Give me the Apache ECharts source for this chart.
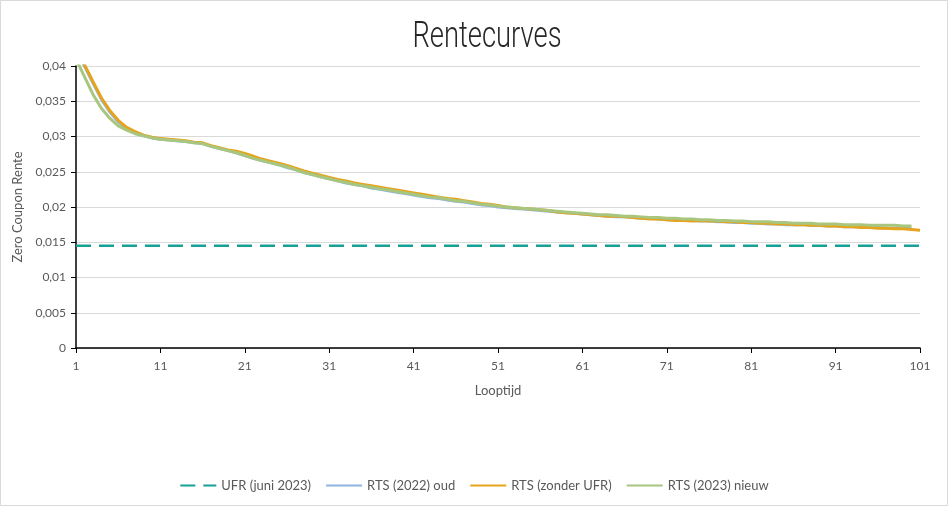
<!DOCTYPE html>
<html>
<head>
<meta charset="utf-8">
<script src="https://cdn.jsdelivr.net/npm/echarts@6/dist/echarts.min.js"></script>
<style>
  html, body { margin: 0; padding: 0; background: #fff; }
  #chart { width: 948px; height: 506px; }
</style>
</head>
<body>
<div id="chart"></div>
<script>
// Looptijd (maturity in years) 1..101
const maturities = Array.from({ length: 101 }, (_, i) => String(i + 1));

// UFR (juni 2023), flat level
const ufrLevel = 0.0145;

// RTS (zonder UFR), maturities 1..101
const rtsZonderUfr = [
  0.0426, 0.0402, 0.0378, 0.0355, 0.0337, 0.0323, 0.0313, 0.0307, 0.0302, 0.0299,
  0.0297, 0.0296, 0.0295, 0.0294, 0.0292, 0.0291, 0.0287, 0.0284, 0.0281, 0.0279,
  0.0276, 0.0272, 0.0268, 0.0265, 0.0262, 0.0259, 0.0255, 0.0251, 0.0248, 0.0245,
  0.0242, 0.0239, 0.0237, 0.0234, 0.0232, 0.0230, 0.0228, 0.0226, 0.0224, 0.0222,
  0.0220, 0.0218, 0.0216, 0.0214, 0.0212, 0.0211, 0.0209, 0.0207, 0.0205, 0.0204,
  0.0202, 0.0200, 0.0199, 0.0198, 0.0197, 0.0196, 0.0195, 0.0193, 0.0192, 0.0191,
  0.0190, 0.0189, 0.0188, 0.0187, 0.0187, 0.0186, 0.0185, 0.0184, 0.0183, 0.0183,
  0.0182, 0.0181, 0.0181, 0.0180, 0.0181, 0.0180, 0.0180, 0.0179, 0.0179, 0.0178,
  0.0178, 0.0177, 0.0177, 0.0176, 0.0176, 0.0175, 0.0175, 0.0174, 0.0174, 0.0173,
  0.0173, 0.0172, 0.0172, 0.0171, 0.0171, 0.0170, 0.0170, 0.0169, 0.0169, 0.0168,
  0.0167
];

// RTS (2022) oud, maturities 1..100 (largely hidden beneath the others)
const rts2022Oud = [
  0.0424, 0.0400, 0.0376, 0.0353, 0.0335, 0.0321, 0.0311, 0.0305, 0.0301, 0.0298,
  0.0296, 0.0295, 0.0294, 0.0293, 0.0291, 0.0290, 0.0286, 0.0283, 0.0280, 0.0277,
  0.0273, 0.0269, 0.0266, 0.0263, 0.0260, 0.0256, 0.0253, 0.0249, 0.0246, 0.0243,
  0.0240, 0.0237, 0.0234, 0.0232, 0.0230, 0.0227, 0.0225, 0.0223, 0.0221, 0.0219,
  0.0217, 0.0215, 0.0213, 0.0212, 0.0210, 0.0208, 0.0207, 0.0205, 0.0203, 0.0202,
  0.0200, 0.0199, 0.0198, 0.0197, 0.0196, 0.0195, 0.0194, 0.0193, 0.0192, 0.0191,
  0.0190, 0.0189, 0.0188, 0.0187, 0.0186, 0.0186, 0.0185, 0.0184, 0.0184, 0.0183,
  0.0182, 0.0182, 0.0181, 0.0181, 0.0180, 0.0180, 0.0179, 0.0179, 0.0178, 0.0178,
  0.0177, 0.0177, 0.0176, 0.0176, 0.0175, 0.0175, 0.0175, 0.0174, 0.0174, 0.0173,
  0.0173, 0.0172, 0.0172, 0.0172, 0.0171, 0.0171, 0.0170, 0.0170, 0.0170, 0.0169
];

// RTS (2023) nieuw, maturities 1..100
const rts2023Nieuw = [
  0.0410, 0.0385, 0.0360, 0.0340, 0.0326, 0.0315, 0.0309, 0.0304, 0.0301, 0.0298,
  0.0296, 0.0295, 0.0294, 0.0293, 0.0291, 0.0290, 0.0286, 0.0283, 0.0280, 0.0277,
  0.0273, 0.0269, 0.0266, 0.0263, 0.0260, 0.0257, 0.0253, 0.0249, 0.0246, 0.0243,
  0.0240, 0.0237, 0.0235, 0.0232, 0.0230, 0.0228, 0.0226, 0.0224, 0.0222, 0.0220,
  0.0218, 0.0216, 0.0214, 0.0213, 0.0211, 0.0209, 0.0208, 0.0206, 0.0204, 0.0203,
  0.0201, 0.0200, 0.0199, 0.0198, 0.0197, 0.0196, 0.0195, 0.0194, 0.0193, 0.0192,
  0.0191, 0.0190, 0.0189, 0.0189, 0.0188, 0.0187, 0.0187, 0.0186, 0.0185, 0.0185,
  0.0184, 0.0184, 0.0183, 0.0183, 0.0182, 0.0182, 0.0181, 0.0181, 0.0180, 0.0180,
  0.0179, 0.0179, 0.0179, 0.0178, 0.0178, 0.0177, 0.0177, 0.0177, 0.0176, 0.0176,
  0.0176, 0.0175, 0.0175, 0.0175, 0.0174, 0.0174, 0.0174, 0.0174, 0.0173, 0.0173
];

const titleText = 'Rentecurves';
const seriesNames = ['UFR (juni 2023)', 'RTS (2022) oud', 'RTS (zonder UFR)', 'RTS (2023) nieuw'];
const seriesColors = ['#17a096', '#8fb4e0', '#e6a41c', '#a8c67e'];

const chart = echarts.init(document.getElementById('chart'), null, { renderer: 'canvas' });

const txt = '#595959';
const fmt = v => String(+Number(v).toFixed(3)).replace('.', ',');

chart.setOption({
  backgroundColor: '#ffffff',
  animation: false,
  graphic: [
    {
      type: 'rect',
      shape: { x: 0.5, y: 0.5, width: 947, height: 505 },
      style: { fill: 'none', stroke: '#d9d9d9', lineWidth: 1 },
      silent: true
    },
    {
      type: 'text',
      x: 487,
      y: 38,
      scaleX: 0.74,
      silent: true,
      style: {
        text: titleText,
        fontFamily: 'Roboto',
        fontWeight: 300,
        fontSize: 37,
        fill: '#262626',
        align: 'center',
        verticalAlign: 'middle'
      }
    }
  ],
  grid: { left: 76, right: 28, top: 66, bottom: 158 },
  legend: {
    bottom: 9,
    left: 'center',
    itemWidth: 36,
    itemHeight: 10,
    itemGap: 14,
    itemStyle: { opacity: 0 },
    textStyle: { fontFamily: 'Lato', fontSize: 13, color: txt },
    data: seriesNames
  },
  xAxis: {
    type: 'category',
    data: maturities,
    boundaryGap: false,
    name: 'Looptijd',
    nameLocation: 'middle',
    nameGap: 36,
    nameTextStyle: { fontFamily: 'Lato', fontSize: 13, color: txt },
    axisLine: { lineStyle: { color: '#000', width: 1.5 } },
    axisTick: { show: true, interval: 9, length: 5, lineStyle: { color: '#000' } },
    axisLabel: { interval: 9, fontFamily: 'Lato', fontSize: 12, color: txt, margin: 12 },
    splitLine: { show: false }
  },
  yAxis: {
    type: 'value',
    min: 0,
    max: 0.04,
    interval: 0.005,
    name: 'Zero Coupon Rente',
    nameLocation: 'middle',
    nameGap: 52,
    nameRotate: 90,
    nameTextStyle: { fontFamily: 'Lato', fontSize: 13, color: txt },
    axisLine: { show: true, lineStyle: { color: '#000', width: 1.5 } },
    axisTick: { show: true, length: 5, lineStyle: { color: '#000' } },
    axisLabel: { formatter: fmt, fontFamily: 'Lato', fontSize: 12, color: txt, margin: 10 },
    splitLine: { lineStyle: { color: '#d9d9d9', width: 1 } }
  },
  series: [
    {
      name: seriesNames[0],
      type: 'line',
      data: maturities.map(() => ufrLevel),
      symbol: 'none',
      color: seriesColors[0],
      lineStyle: { width: 2.5, type: [15, 8], color: seriesColors[0] },
      z: 2
    },
    {
      name: seriesNames[1],
      type: 'line',
      data: rts2022Oud,
      symbol: 'none',
      color: seriesColors[1],
      lineStyle: { width: 3, color: seriesColors[1] },
      z: 3
    },
    {
      name: seriesNames[2],
      type: 'line',
      data: rtsZonderUfr,
      symbol: 'none',
      color: seriesColors[2],
      lineStyle: { width: 3, color: seriesColors[2] },
      z: 4
    },
    {
      name: seriesNames[3],
      type: 'line',
      data: rts2023Nieuw,
      symbol: 'none',
      color: seriesColors[3],
      lineStyle: { width: 3, color: seriesColors[3] },
      z: 5
    }
  ]
});
</script>
</body>
</html>
